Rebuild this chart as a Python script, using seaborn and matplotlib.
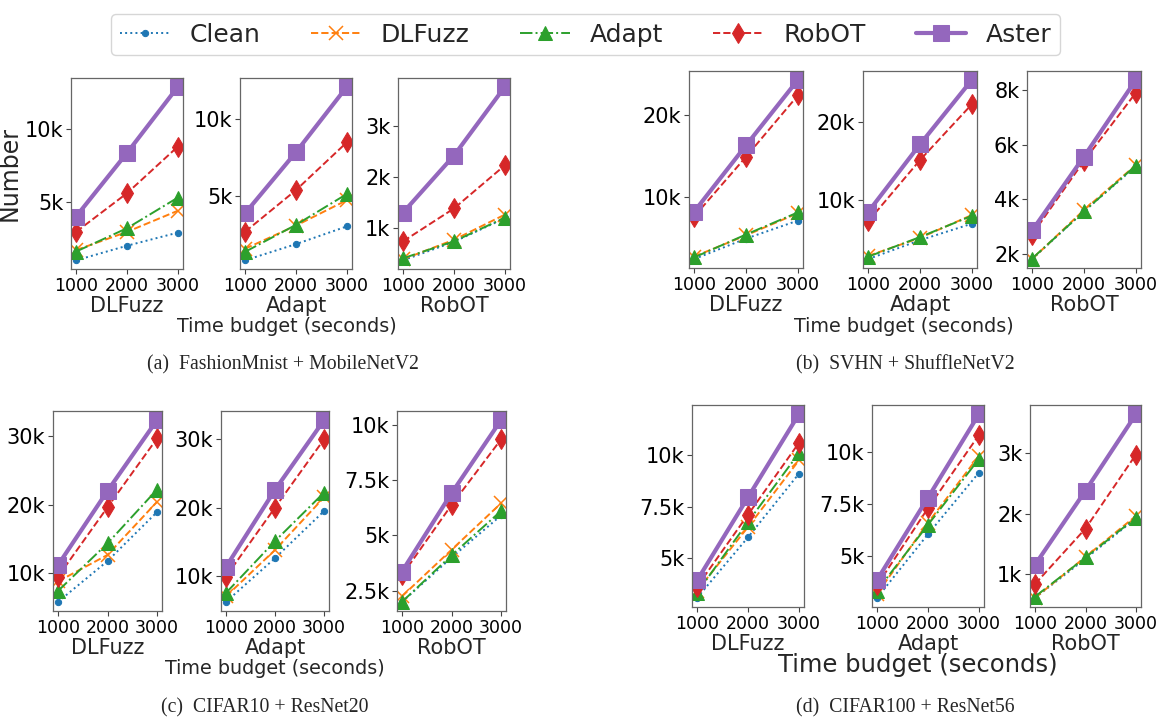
import matplotlib
matplotlib.use("Agg")
import matplotlib.pyplot as plt
import seaborn as sns
import pandas as pd
from matplotlib.ticker import FuncFormatter, MultipleLocator

budgets = [1000, 2000, 3000]
methods = ["Clean", "DLFuzz", "Adapt", "RobOT", "Aster"]

# numbers of generated inputs, in thousands
# (a) FashionMnist + MobileNetV2
fm_dlfuzz = {"Clean": [1.0, 2.0, 2.9], "DLFuzz": [1.7, 2.95, 4.4], "Adapt": [1.6, 3.2, 5.3],
             "RobOT": [2.95, 5.6, 8.8], "Aster": [4.0, 8.36, 12.9]}
fm_adapt = {"Clean": [0.85, 1.9, 3.05], "DLFuzz": [1.6, 3.1, 4.75], "Adapt": [1.4, 3.15, 5.15],
            "RobOT": [2.7, 5.4, 8.5], "Aster": [3.9, 7.86, 12.1]}
fm_robot = {"Clean": [0.38, 0.74, 1.2], "DLFuzz": [0.4, 0.78, 1.27], "Adapt": [0.42, 0.75, 1.21],
            "RobOT": [0.75, 1.39, 2.23], "Aster": [1.31, 2.42, 3.76]}
# (b) SVHN + ShuffleNetV2
sv_dlfuzz = {"Clean": [2.4, 4.9, 7.1], "DLFuzz": [2.7, 5.3, 8.0], "Adapt": [2.6, 5.4, 8.1],
             "RobOT": [7.6, 14.9, 22.4], "Aster": [8.2, 16.3, 24.3]}
sv_adapt = {"Clean": [2.5, 4.9, 7.0], "DLFuzz": [2.9, 5.2, 8.1], "Adapt": [2.8, 5.3, 8.0],
            "RobOT": [7.3, 15.1, 22.2], "Aster": [8.5, 17.1, 25.3]}
sv_robot = {"Clean": [1.8, 3.55, 5.2], "DLFuzz": [1.8, 3.6, 5.25], "Adapt": [1.82, 3.55, 5.23],
            "RobOT": [2.7, 5.4, 7.9], "Aster": [2.85, 5.56, 8.37]}
# (c) CIFAR10 + ResNet20
c10_dlfuzz = {"Clean": [5.7, 11.7, 18.9], "DLFuzz": [8.7, 12.6, 20.4], "Adapt": [7.3, 14.3, 22.2],
              "RobOT": [9.4, 19.6, 29.7], "Aster": [11.1, 22.0, 32.4]}
c10_adapt = {"Clean": [6.2, 12.6, 19.5], "DLFuzz": [7.0, 13.8, 21.5], "Adapt": [7.5, 15.1, 22.2],
             "RobOT": [9.9, 20.0, 30.0], "Aster": [11.3, 22.6, 32.8]}
c10_robot = {"Clean": [2.0, 4.0, 5.9], "DLFuzz": [2.25, 4.35, 6.45], "Adapt": [2.0, 4.1, 6.1],
             "RobOT": [3.2, 6.37, 9.33], "Aster": [3.37, 6.9, 10.2]}
# (d) CIFAR100 + ResNet56
c100_dlfuzz = {"Clean": [3.05, 6.0, 9.1], "DLFuzz": [3.4, 6.5, 9.75], "Adapt": [3.3, 6.75, 10.1],
               "RobOT": [3.6, 7.1, 10.6], "Aster": [3.9, 7.95, 12.0]}
c100_adapt = {"Clean": [3.0, 6.05, 9.0], "DLFuzz": [3.2, 6.6, 9.8], "Adapt": [3.35, 6.5, 9.65],
              "RobOT": [3.6, 7.3, 10.8], "Aster": [3.86, 7.8, 11.8]}
c100_robot = {"Clean": [0.6, 1.25, 1.92], "DLFuzz": [0.6, 1.28, 1.96], "Adapt": [0.62, 1.27, 1.93],
              "RobOT": [0.83, 1.75, 2.98], "Aster": [1.15, 2.38, 3.65]}

panel_titles = ["DLFuzz", "Adapt", "RobOT"]
captions = ["(a)  FashionMnist + MobileNetV2", "(b)  SVHN + ShuffleNetV2",
            "(c)  CIFAR10 + ResNet20", "(d)  CIFAR100 + ResNet56"]

colors = {"Clean": "#1f77b4", "DLFuzz": "#ff7f0e", "Adapt": "#2ca02c",
          "RobOT": "#d62728", "Aster": "#9467bd"}
styles = {
    "Clean": dict(linestyle=":", marker="o", markersize=4.5, linewidth=1.4),
    "DLFuzz": dict(linestyle="--", marker="x", markersize=10, linewidth=1.4, markeredgewidth=1.1),
    "Adapt": dict(linestyle="-.", marker="^", markersize=10, linewidth=1.4),
    "RobOT": dict(linestyle="--", marker="d", markersize=10, linewidth=1.4),
    "Aster": dict(linestyle="-", marker="s", markersize=12, linewidth=3),
}

W, H = 1169, 722
sns.set_style("white")
plt.rcParams["font.family"] = ["DejaVu Sans"]
fig = plt.figure(figsize=(W / 100, H / 100), dpi=100)

groups = [
    dict(data=[fm_dlfuzz, fm_adapt, fm_robot], steps=[5, 5, 1], top=78, bottom=269,
         xs=[(71, 183), (240, 352), (398, 510)], label_y=327, label_x=287, label_size=13.8,
         cap=(283, 365)),
    dict(data=[sv_dlfuzz, sv_adapt, sv_robot], steps=[10, 10, 2], top=71, bottom=268,
         xs=[(689, 803), (863, 977), (1027, 1141)], label_y=327, label_x=904, label_size=13.8,
         cap=(905, 365)),
    dict(data=[c10_dlfuzz, c10_adapt, c10_robot], steps=[10, 10, 2.5], top=411, bottom=611,
         xs=[(53, 162), (221, 329), (397, 506)], label_y=668, label_x=275, label_size=13.8,
         cap=(265, 708)),
    dict(data=[c100_dlfuzz, c100_adapt, c100_robot], steps=[2.5, 2.5, 1], top=405, bottom=607,
         xs=[(692, 804), (872, 984), (1030, 1141)], label_y=665, label_x=918, label_size=17.5,
         cap=(905, 708)),
]

kfmt = FuncFormatter(lambda v, p: f"{v:g}k")
handles = None
for gi, g in enumerate(groups):
    for pi, (panel, (x0, x1)) in enumerate(zip(g["data"], g["xs"])):
        ax = fig.add_axes([x0 / W, 1 - g["bottom"] / H, (x1 - x0) / W, (g["bottom"] - g["top"]) / H])
        rows = [(b, m, v) for m in methods for b, v in zip(budgets, panel[m])]
        df = pd.DataFrame(rows, columns=["budget", "method", "value"])
        for m in methods:
            sns.lineplot(data=df[df.method == m], x="budget", y="value", ax=ax, label=m,
                         color=colors[m], markeredgecolor=colors[m], markerfacecolor=colors[m],
                         **styles[m])
        if ax.get_legend() is not None:
            ax.get_legend().remove()
        if handles is None:
            handles, labels = ax.get_legend_handles_labels()
        ax.set_xticks(budgets)
        ax.yaxis.set_major_locator(MultipleLocator(g["steps"][pi]))
        ax.yaxis.set_major_formatter(kfmt)
        ax.tick_params(axis="x", labelsize=12.5, length=3.5, width=0.8, pad=2)
        ax.tick_params(axis="y", labelsize=15, length=3.5, width=0.8, pad=2)
        ax.tick_params(left=True, bottom=True, colors="#444444", labelcolor="black")
        for s in ax.spines.values():
            s.set_color("#666666")
            s.set_linewidth(0.9)
        ax.set_ylabel("")
        ax.set_xlabel(panel_titles[pi], fontsize=15, labelpad=1)
        if gi == 0 and pi == 0:
            ax.set_ylabel("Number", fontsize=17, labelpad=2)
    fig.text(g["label_x"] / W, 1 - g["label_y"] / H, "Time budget (seconds)",
             fontsize=g["label_size"], ha="center", va="center")
    fig.text(g["cap"][0] / W, 1 - g["cap"][1] / H, captions[gi], fontsize=14.2,
             family="Liberation Serif", ha="center", va="center")

fig.legend(handles, labels, loc="upper center", bbox_to_anchor=(0.501, 0.998), ncol=5,
           fontsize=18, frameon=True, edgecolor="#cccccc", fancybox=True,
           handlelength=2.0, columnspacing=2.0, borderpad=0.35)

fig.savefig("out.png", dpi=100)
